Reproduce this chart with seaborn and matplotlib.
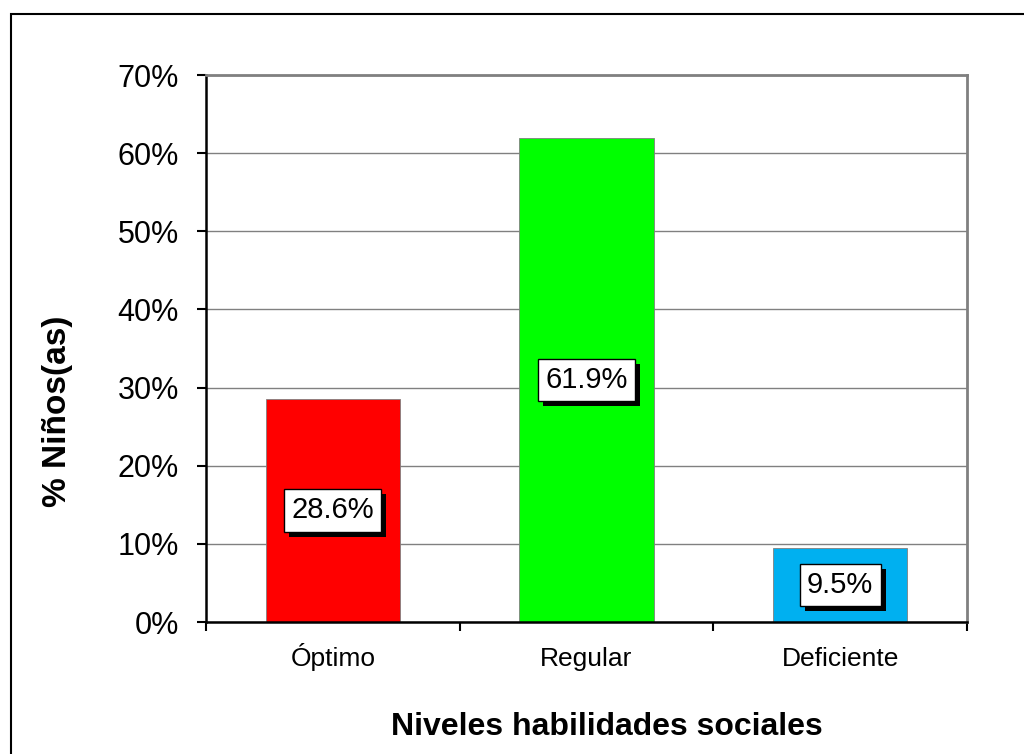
import pandas as pd
import matplotlib.pyplot as plt
import matplotlib.patheffects as pe
from matplotlib.patches import Rectangle
from matplotlib.ticker import PercentFormatter
import seaborn as sns

niveles = ['Óptimo', 'Regular', 'Deficiente']
porcentajes = [28.6, 61.9, 9.5]
colores = ['#FF0000', '#00FF00', '#00B0F0']

df = pd.DataFrame({'nivel': niveles, 'pct': porcentajes})

sns.set_style('white')
plt.rcParams['font.family'] = ['Liberation Sans', 'DejaVu Sans']
plt.rcParams['text.color'] = 'black'
plt.rcParams['axes.labelcolor'] = 'black'
plt.rcParams['xtick.color'] = 'black'
plt.rcParams['ytick.color'] = 'black'

fig = plt.figure(figsize=(10.24, 7.54), dpi=100)
ax = fig.add_axes([206/1024, 1 - 622/754, (967-206)/1024, (622-75)/754])

sns.barplot(data=df, x='nivel', y='pct', hue='nivel', palette=colores, saturation=1,
            width=0.53, edgecolor='#808080', linewidth=0.6, legend=False, ax=ax)

ax.set_ylim(0, 70)
ax.set_xlim(-0.5, 2.5)
ax.set_yticks(range(0, 71, 10))
ax.yaxis.set_major_formatter(PercentFormatter(decimals=0))
ax.yaxis.grid(True, color='#808080', linewidth=1)
ax.set_axisbelow(True)

ax.tick_params(axis='y', labelsize=22, length=6.5, width=1.5, direction='out', left=True, pad=13)
ax.tick_params(axis='x', labelsize=19, length=0, pad=32)
ax.set_xticks([-0.5, 0.5, 1.5, 2.5], minor=True)
ax.tick_params(axis='x', which='minor', length=6.5, width=1.5, direction='out', bottom=True)
plt.setp(ax.get_xticklabels(), va='baseline')

for side in ['top', 'right']:
    ax.spines[side].set_color('#808080')
    ax.spines[side].set_linewidth(2)
for side in ['left', 'bottom']:
    ax.spines[side].set_color('black')
    ax.spines[side].set_linewidth(1.8)

ax.set_xlabel('Niveles habilidades sociales', fontsize=23, fontweight='bold')
ax.set_ylabel('% Niños(as)', fontsize=24, fontweight='bold')
ax.xaxis.set_label_coords(0.527, -0.165)
ax.yaxis.set_label_coords(-0.175, 0.385)

for i, v in enumerate(porcentajes):
    t = ax.text(i, v / 2, f'{v}%', ha='center', va='center', fontsize=21,
                bbox=dict(boxstyle='square,pad=0.25', facecolor='white', edgecolor='black', linewidth=1))
    t.get_bbox_patch().set_path_effects([
        pe.SimplePatchShadow(offset=(3.6, -3.6), shadow_rgbFace='black', alpha=1), pe.Normal()])

fig.patches.append(Rectangle((11/1024, -0.1), 1.2, 1 - 14/754 + 0.1, transform=fig.transFigure,
                             fill=False, edgecolor='black', linewidth=1.5))

fig.savefig('out.png', dpi=100)
